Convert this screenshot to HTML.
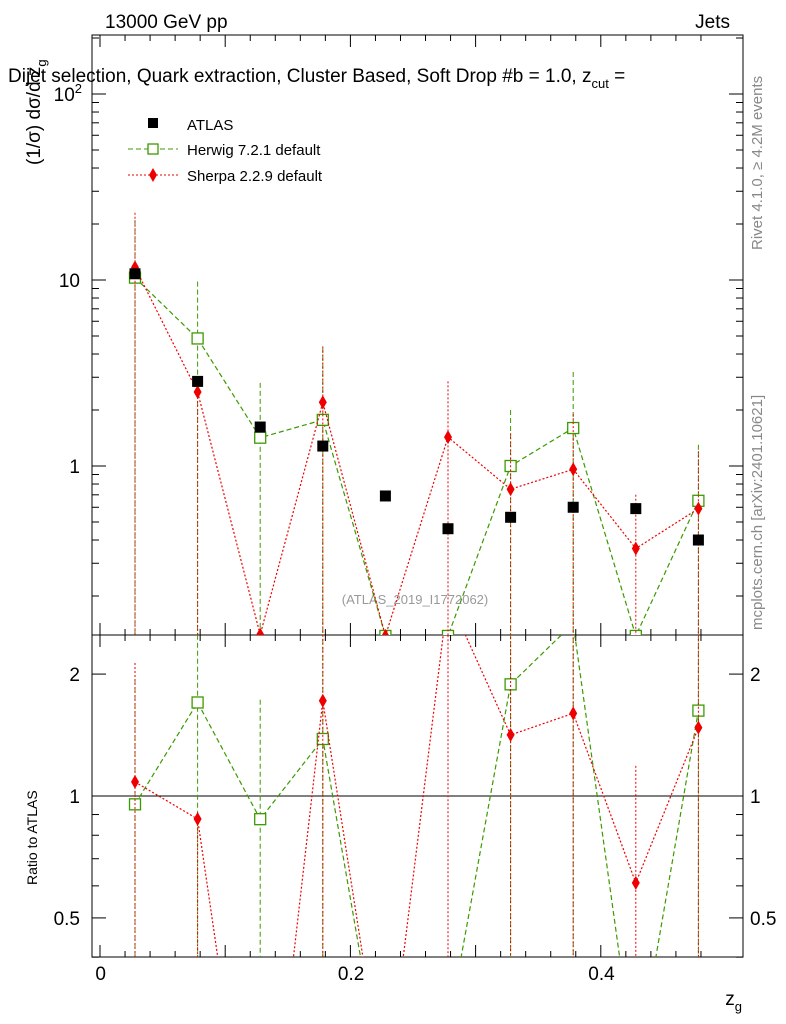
<!DOCTYPE html>
<html><head><meta charset="utf-8"><style>
html,body{margin:0;background:#fff;overflow:hidden;width:786px;height:1024px;}
svg{display:block;}
svg text{font-family:"Liberation Sans",sans-serif;}
</style></head><body>
<svg id="c" width="786" height="1024" xmlns="http://www.w3.org/2000/svg">
<text x="105" y="28" font-size="19">13000 GeV pp</text>
<text x="730" y="28" font-size="19" text-anchor="end">Jets</text>
<text x="8" y="82" font-size="19">Dijet selection, Quark extraction, Cluster Based, Soft Drop #b = 1.0, z<tspan dy="6" font-size="13">cut</tspan><tspan dy="-6"> =</tspan></text>
<text transform="translate(762,250) rotate(-90)" font-size="15" fill="#888">Rivet 4.1.0, ≥ 4.2M events</text>
<text transform="translate(762,630) rotate(-90)" font-size="15" fill="#888">mcplots.cern.ch [arXiv:2401.10621]</text>
<text transform="translate(40,165) rotate(-90)" font-size="19">(1/σ) dσ/d z<tspan dy="6" font-size="13">g</tspan></text>
<text transform="translate(37,885) rotate(-90)" font-size="14">Ratio to ATLAS</text>
<text x="742" y="1005" font-size="19" text-anchor="end">z<tspan dy="6" font-size="13">g</tspan></text>
<text x="415" y="604" font-size="13" fill="#999" text-anchor="middle">(ATLAS_2019_I1772062)</text>
<g id="g"></g>
</svg>
<script>
const xs=[0.025,0.075,0.125,0.175,0.225,0.275,0.325,0.375,0.425,0.475];
const atlas=[10.8,2.85,1.62,1.28,0.69,0.46,0.53,0.60,0.59,0.40];
const herwig=[10.3,4.85,1.42,1.77,0.122,0.122,1.0,1.6,0.122,0.65];
const herwigUp=[21,9.8,2.8,4.3,0.13,0.13,2.0,3.2,0.13,1.3];
const sherpa=[11.7,2.5,0.124,2.2,0.122,1.43,0.75,0.96,0.36,0.59];
const sherpaUp=[23,2.6,0.13,4.4,0.13,2.85,1.5,1.9,0.7,1.2];
const xTicks=[0,0.2,0.4];
const yTicks=[1,10,100];
const rTicks=[0.5,1,2];
const NS="http://www.w3.org/2000/svg";
const g=document.getElementById('g');
const L=92,R=743,T=35,MB=635,RB=957;
const X=v=>103.7+v*1252;
const Y=v=>466-186*Math.log10(v);
const RY=r=>796-405*Math.log10(r);
function el(t,a,p){const e=document.createElementNS(NS,t);for(const k in a)e.setAttribute(k,a[k]);(p||g).appendChild(e);return e;}
function clip(v,a,b){return Math.max(a,Math.min(b,v));}
const defs=el('defs',{});
const c1=el('clipPath',{id:'cm'},defs);el('rect',{x:L,y:T,width:R-L,height:MB-T},c1);
const c2=el('clipPath',{id:'cr'},defs);el('rect',{x:L,y:MB,width:R-L,height:RB-MB},c2);
let f=el('rect',{x:L,y:T,width:R-L,height:MB-T,fill:'none',stroke:'#000','stroke-width':1});

f=el('rect',{x:L,y:MB,width:R-L,height:RB-MB,fill:'none',stroke:'#000','stroke-width':1});

for(let v=0;v<=0.5;v+=0.02){const x=X(v)-3.7;const big=Math.abs(v*10-Math.round(v*10))<1e-6;const l=big?12:6;
 el('line',{x1:x,x2:x,y1:MB,y2:MB-l,stroke:'#000'});el('line',{x1:x,x2:x,y1:T,y2:T+l,stroke:'#000'});
 el('line',{x1:x,x2:x,y1:RB,y2:RB-l,stroke:'#000'});el('line',{x1:x,x2:x,y1:MB,y2:MB+l,stroke:'#000'});}
xTicks.forEach(v=>{const t=el('text',{x:X(v)-3,y:980,'font-size':19,'text-anchor':'middle'});t.textContent=v===0?'0':String(v);
 });
for(let d=-1;d<=2;d++)for(let m=1;m<10;m++){const v=m*Math.pow(10,d);const y=Y(v);if(y<T||y>MB)continue;const l=m===1?14:7;
 el('line',{x1:L,x2:L+l,y1:y,y2:y,stroke:'#000'});el('line',{x1:R,x2:R-l,y1:y,y2:y,stroke:'#000'});}
yTicks.forEach(v=>{const t=el('text',{x:v===100?82:80,y:Y(v)+7,'font-size':19,'text-anchor':'end'});
 if(v===100){t.innerHTML='10<tspan dy="-8" font-size="13">2</tspan>';}else t.textContent=String(v);
 });
[0.4,0.5,0.6,0.7,0.8,0.9,1,2].forEach(v=>{const y=RY(v);const l=(v===0.5||v===1||v===2)?14:7;
 el('line',{x1:L,x2:L+l,y1:y,y2:y,stroke:'#000'});el('line',{x1:R,x2:R-l,y1:y,y2:y,stroke:'#000'});});
rTicks.forEach(v=>{[[80,'end'],[750,'start']].forEach(([x,a])=>{const t=el('text',{x:x,y:RY(v)+7,'font-size':19,'text-anchor':a});t.textContent=String(v);
 });});
let ln=el('line',{x1:L,x2:R,y1:RY(1),y2:RY(1),stroke:'#000'});

const gm=el('g',{'clip-path':'url(#cm)'});const gr=el('g',{'clip-path':'url(#cr)'});
function series(vals,up,col,dash,marker,name){
 const pm=vals.map((v,i)=>X(xs[i])+','+clip(Y(v),0,2000)).join(' ');
 let p=el('polyline',{points:pm,fill:'none',stroke:col,'stroke-dasharray':dash,'stroke-width':1.2},gm);
 
 const pr=vals.map((v,i)=>X(xs[i])+','+clip(RY(v/atlas[i]),-500,2000)).join(' ');
 p=el('polyline',{points:pr,fill:'none',stroke:col,'stroke-dasharray':dash,'stroke-width':1.2},gr);
 
 vals.forEach((v,i)=>{const x=X(xs[i]);
  let e=el('line',{x1:x,x2:x,y1:Y(up[i]),y2:MB,stroke:col,'stroke-dasharray':dash},gm);
  
  e=el('line',{x1:x,x2:x,y1:RY(up[i]/atlas[i]),y2:RB,stroke:col,'stroke-dasharray':dash},gr);
  
  [[gm,Y(v)],[gr,RY(v/atlas[i])]].forEach(([pg,y])=>{let m;
   if(marker==='sq')m=el('rect',{x:x-5.5,y:y-5.5,width:11,height:11,fill:'#fff',stroke:col,'stroke-width':1.3},pg);
   else m=el('polygon',{points:`${x},${y-7} ${x+4},${y} ${x},${y+7} ${x-4},${y}`,fill:col},pg);
   });
 });
}
series(herwig,herwigUp,'#3c9a00','5,3','sq','herwig');
series(sherpa,sherpaUp,'#ee0000','2,2','dia','sherpa');
atlas.forEach((v,i)=>{const m=el('rect',{x:X(xs[i])-5.5,y:Y(v)-5.5,width:11,height:11,fill:'#000'},gm);
 });
const lg=el('g',{});
el('rect',{x:148,y:118,width:10,height:10,fill:'#000'},lg);
let t=el('text',{x:187,y:130,'font-size':15},lg);t.textContent='ATLAS';
el('line',{x1:128,x2:178,y1:149,y2:149,stroke:'#3c9a00','stroke-dasharray':'5,3'},lg);
el('rect',{x:148,y:144,width:10,height:10,fill:'#fff',stroke:'#3c9a00','stroke-width':1.3},lg);
t=el('text',{x:187,y:155,'font-size':15},lg);t.textContent='Herwig 7.2.1 default';
el('line',{x1:128,x2:178,y1:175,y2:175,stroke:'#ee0000','stroke-dasharray':'2,2'},lg);
el('polygon',{points:'153,168 157,175 153,182 149,175',fill:'#ee0000'},lg);
t=el('text',{x:187,y:181,'font-size':15},lg);t.textContent='Sherpa 2.2.9 default';
</script>
</body></html>
